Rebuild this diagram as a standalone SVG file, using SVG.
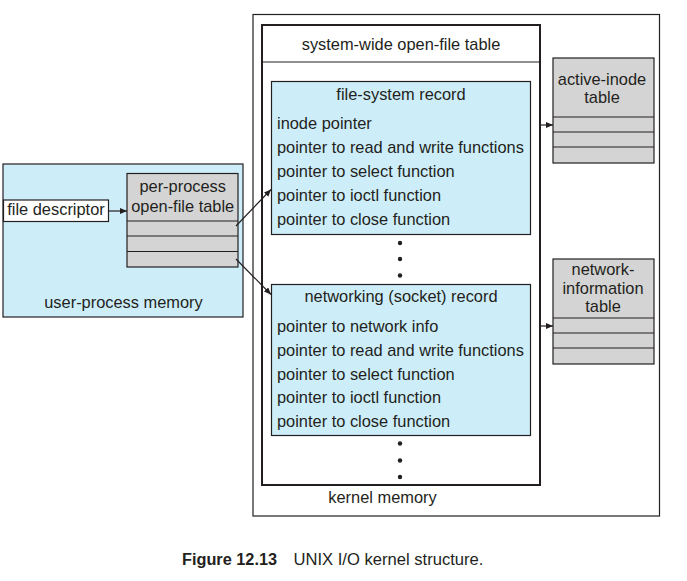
<svg xmlns="http://www.w3.org/2000/svg" width="687" height="581" viewBox="0 0 687 581">
<style>
text{font-family:"Liberation Sans",Arial,Helvetica,sans-serif;font-size:16.4px;fill:#231f20}
.c{text-anchor:middle}
.box{stroke:#231f20;stroke-width:1.2}
.blue{fill:#cdeef9}
.gray{fill:#d4d4d4}
.white{fill:#ffffff}
.ln{stroke:#231f20;stroke-width:1.2;fill:none}
.dot{fill:#231f20}
</style>
<defs>
<marker id="ah" markerUnits="userSpaceOnUse" markerWidth="8" markerHeight="7" refX="7" refY="3" orient="auto">
<path d="M0,0 L7,3 L0,6 z" fill="#231f20"/>
</marker>
</defs>
<rect width="687" height="581" fill="#ffffff"/>

<g id="kernel-memory">
<rect x="253" y="14.5" width="406.5" height="501.5" class="box white"/>
<text x="382.5" y="503" class="c">kernel memory</text>
</g>

<g id="system-wide-open-file-table">
<rect x="262" y="25" width="278" height="460" fill="#ffffff" stroke="#231f20" stroke-width="2"/>
<line x1="262" y1="62" x2="540" y2="62" stroke="#231f20" stroke-width="1.2"/>
<text x="401" y="50" class="c">system-wide open-file table</text>
<circle cx="400" cy="243" r="2.2" class="dot"/>
<circle cx="400" cy="259" r="2.2" class="dot"/>
<circle cx="400" cy="275.5" r="2.2" class="dot"/>
<circle cx="400" cy="443.5" r="2.2" class="dot"/>
<circle cx="400" cy="460.5" r="2.2" class="dot"/>
<circle cx="400" cy="477" r="2.2" class="dot"/>
</g>

<g id="file-system-record">
<rect x="271.5" y="81.5" width="259" height="153" class="box blue"/>
<text x="401" y="99.5" class="c">file-system record</text>
<text x="277" y="129">inode pointer</text>
<text x="277" y="153">pointer to read and write functions</text>
<text x="277" y="176.5">pointer to select function</text>
<text x="277" y="200.5">pointer to ioctl function</text>
<text x="277" y="224.5">pointer to close function</text>
</g>

<g id="networking-socket-record">
<rect x="271.5" y="284.5" width="259" height="151" class="box blue"/>
<text x="401" y="301.5" class="c">networking (socket) record</text>
<text x="277" y="331.5">pointer to network info</text>
<text x="277" y="355.5">pointer to read and write functions</text>
<text x="277" y="379.5">pointer to select function</text>
<text x="277" y="403">pointer to ioctl function</text>
<text x="277" y="427">pointer to close function</text>
</g>

<g id="active-inode-table">
<rect x="553" y="58" width="101" height="105" class="box gray"/>
<line x1="553" y1="117" x2="654" y2="117" class="ln"/>
<line x1="553" y1="132" x2="654" y2="132" class="ln"/>
<line x1="553" y1="147" x2="654" y2="147" class="ln"/>
<text x="602" y="85" class="c">active-inode</text>
<text x="602" y="103" class="c">table</text>
</g>

<g id="network-information-table">
<rect x="553" y="259" width="101" height="105" class="box gray"/>
<line x1="553" y1="318" x2="654" y2="318" class="ln"/>
<line x1="553" y1="333" x2="654" y2="333" class="ln"/>
<line x1="553" y1="348" x2="654" y2="348" class="ln"/>
<text x="603" y="275" class="c">network-</text>
<text x="603" y="293.5" class="c">information</text>
<text x="603" y="311.5" class="c">table</text>
</g>

<g id="user-process-memory">
<rect x="3" y="164" width="240" height="153" class="box blue"/>
<text x="123.5" y="308" class="c">user-process memory</text>
</g>

<g id="per-process-open-file-table">
<rect x="127" y="173.5" width="111" height="93.5" class="box gray"/>
<line x1="127" y1="221" x2="238" y2="221" class="ln"/>
<line x1="127" y1="236" x2="238" y2="236" class="ln"/>
<line x1="127" y1="251.5" x2="238" y2="251.5" class="ln"/>
<text x="182.7" y="192" class="c">per-process</text>
<text x="182.7" y="212" class="c">open-file table</text>
</g>

<g id="file-descriptor">
<rect x="3.5" y="200" width="105" height="21.5" class="box white"/>
<text x="56" y="215" class="c">file descriptor</text>
</g>

<g id="connectors">
<line x1="108.5" y1="211" x2="127" y2="211" class="ln" marker-end="url(#ah)"/>
<line x1="236" y1="226" x2="271" y2="189.5" class="ln" marker-end="url(#ah)"/>
<line x1="236" y1="259" x2="271" y2="294.5" class="ln" marker-end="url(#ah)"/>
<line x1="540.5" y1="125" x2="553" y2="125" class="ln" marker-end="url(#ah)"/>
<line x1="540.5" y1="326" x2="553" y2="326" class="ln" marker-end="url(#ah)"/>
</g>

<g id="caption">
<text x="182" y="565" style="font-weight:bold;font-size:16.3px">Figure 12.13</text>
<text x="293.5" y="565" style="font-size:16.6px">UNIX I/O kernel structure.</text>
</g>
</svg>
